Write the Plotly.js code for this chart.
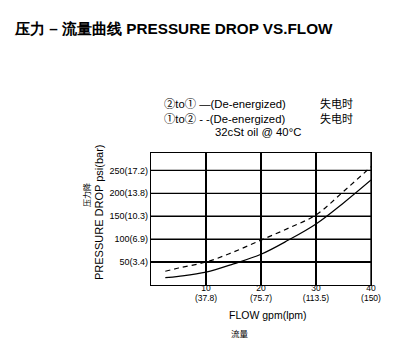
<!DOCTYPE html>
<html><head><meta charset="utf-8">
<script src="https://cdn.plot.ly/plotly-3.0.1.min.js"></script>
<style>html,body{margin:0;padding:0;background:#fff;}</style>
</head><body>
<div id="chart" style="width:417px;height:359px;"></div>
<script>
const flowGpm = [2.6, 5, 10, 15, 20, 25, 30, 35, 40];
const solid21 = [16, 19, 28, 46, 67, 98, 133, 179, 229];
const dashed12 = [30, 37, 50, 72, 98, 124, 153, 204, 258];
const xTickVals = [10, 20, 30, 40];
const xTickGpm = ["10", "20", "30", "40"];
const xTickLpm = ["(37.8)", "(75.7)", "(113.5)", "(150)"];
const yTickVals = [50, 100, 150, 200, 250];
const yTickText = ["50(3.4)", "100(6.9)", "150(10.3)", "200(13.8)", "250(17.2)"];

const F = "Liberation Sans, Arial, sans-serif";
const CJK = "Noto Sans CJK SC";
const traces = [
  {x: flowGpm, y: solid21, mode: "lines", line: {color: "#000", width: 1.2, shape: "spline"}, showlegend: false, hoverinfo: "skip"},
  {x: flowGpm, y: dashed12, xaxis: "x2", mode: "lines", line: {color: "#000", width: 1.2, dash: "5px,4px", shape: "spline"}, showlegend: false, hoverinfo: "skip"}
];
const gridShapes = [];
xTickVals.forEach(v => gridShapes.push({type: "line", xref: "x", yref: "paper", x0: v, x1: v, y0: 0, y1: 1, line: {color: "rgb(0,0,0)", width: 1.3}, layer: "above"}));
yTickVals.forEach(v => gridShapes.push({type: "line", xref: "paper", yref: "y", x0: 0, x1: 1, y0: v, y1: v, line: {color: "rgb(0,0,0)", width: 1.3}, layer: "above"}));

const axBase = {range: [0, 40], tickvals: xTickVals, ticks: "", zeroline: false, fixedrange: true,
  tickfont: {size: 8.5, family: F, color: "#000"}};
const layout = {
  width: 417, height: 359,
  margin: {l: 151, r: 46, t: 153, b: 74},
  paper_bgcolor: "#fff", plot_bgcolor: "#fff",
  font: {family: F, color: "#000", size: 9},
  shapes: gridShapes,
  xaxis: Object.assign({}, axBase, {ticktext: xTickGpm, showgrid: true, gridcolor: "rgb(0,0,0)", gridwidth: 1.3,
    showline: true, linecolor: "#000", linewidth: 1.2, mirror: true, ticklabelstandoff: -5}),
  xaxis2: Object.assign({}, axBase, {ticktext: xTickLpm, overlaying: "x", side: "bottom", anchor: "y", showgrid: false,
    showline: false, ticklabelstandoff: 6}),
  yaxis: {range: [0, 288], tickvals: yTickVals, ticktext: yTickText, showgrid: true, gridcolor: "rgb(0,0,0)", gridwidth: 1.3,
    showline: true, linecolor: "#000", linewidth: 1.2, mirror: true, ticks: "", zeroline: false, fixedrange: true,
    tickfont: {size: 9, family: F, color: "#000"}},
  annotations: [
    {xref: "paper", yref: "paper", x: (12-151)/220, y: 1 + (153-28)/132, xanchor: "left", yanchor: "middle", showarrow: false,
      text: "<b>压力 – 流量曲线 PRESSURE DROP VS.FLOW</b>", font: {size: 15.3, family: F, color: "#000"}},
    {xref: "paper", yref: "paper", x: (162-151)/220, y: 1 + (153-103)/132, xanchor: "left", yanchor: "middle", showarrow: false,
      text: "<span style='font-family:Noto Sans CJK SC'>②</span>to<span style='font-family:Noto Sans CJK SC'>①</span> —(De-energized)", font: {size: 11.3, family: F, color: "#000"}},
    {xref: "paper", yref: "paper", x: (162-151)/220, y: 1 + (153-118)/132, xanchor: "left", yanchor: "middle", showarrow: false,
      text: "<span style='font-family:Noto Sans CJK SC'>①</span>to<span style='font-family:Noto Sans CJK SC'>②</span> - -(De-energized)", font: {size: 11.3, family: F, color: "#000"}},
    {xref: "paper", yref: "paper", x: (318-151)/220, y: 1 + (153-103)/132, xanchor: "left", yanchor: "middle", showarrow: false,
      text: "失电时", font: {size: 11, family: CJK, color: "#000"}},
    {xref: "paper", yref: "paper", x: (318-151)/220, y: 1 + (153-118)/132, xanchor: "left", yanchor: "middle", showarrow: false,
      text: "失电时", font: {size: 11, family: CJK, color: "#000"}},
    {xref: "paper", yref: "paper", x: (213-151)/220, y: 1 + (153-132)/132, xanchor: "left", yanchor: "middle", showarrow: false,
      text: "32cSt oil @ 40°C", font: {size: 11.3, family: F, color: "#000"}},
    {xref: "paper", yref: "paper", x: (99-151)/220, y: (285-212)/132, xanchor: "center", yanchor: "middle", showarrow: false, textangle: -90,
      text: "PRESSURE DROP psi(bar)", font: {size: 11, family: F, color: "#000"}},
    {xref: "paper", yref: "paper", x: (86-151)/220, y: (285-195)/132, xanchor: "center", yanchor: "middle", showarrow: false, textangle: -90,
      text: "压力降", font: {size: 8, family: CJK, color: "#000"}},
    {xref: "paper", yref: "paper", x: (268-151)/220, y: -(315-285)/132, xanchor: "center", yanchor: "middle", showarrow: false,
      text: "FLOW gpm(lpm)", font: {size: 10.5, family: F, color: "#000"}},
    {xref: "paper", yref: "paper", x: (240-151)/220, y: -(333-285)/132, xanchor: "center", yanchor: "middle", showarrow: false,
      text: "流量", font: {size: 8.5, family: CJK, color: "#000"}}
  ]
};
Plotly.newPlot("chart", traces, layout, {displayModeBar: false, staticPlot: true});
</script>
</body></html>
